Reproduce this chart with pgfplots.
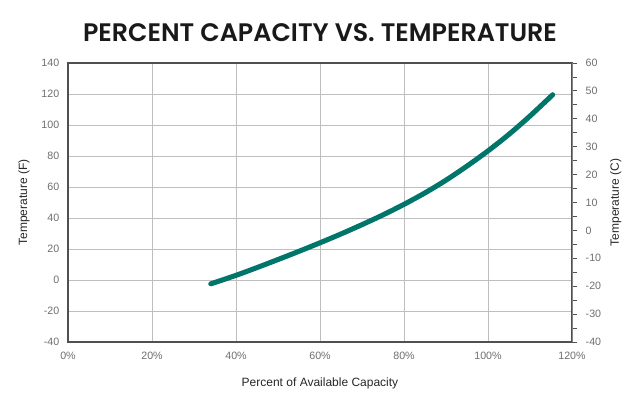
\documentclass[border=0pt]{standalone}
\usepackage{pgfplots}
\pgfplotsset{compat=1.18}
\usetikzlibrary{calc}
\usepackage{fontspec}
\setmainfont{Liberation Sans}
\newfontfamily\titlefont{Poppins SemiBold}
\definecolor{teal1}{RGB}{0,118,106}
\definecolor{tickgray}{RGB}{110,110,110}
\definecolor{gridgray}{RGB}{190,190,190}
\definecolor{axisgray}{RGB}{80,80,80}
\begin{document}
\begin{tikzpicture}
\pgfplotstableread{
x y
34 -2.5
40 3
45 8
50 13.2
55 18.5
60 24
65 29.7
70 35.7
75 42
80 48.8
85 56.2
90 64.4
95 73.5
100 83.3
105 94
110 105.8
115.4 119.5
}\curve
\begin{axis}[
  name=ax,
  scale only axis,
  width=378pt, height=209.25pt,
  xmin=0, xmax=120, ymin=-40, ymax=140,
  xtick={0,20,...,120}, ytick={-40,-20,...,140},
  xticklabel={\pgfmathprintnumber{\tick}\%},
  /pgf/number format/assume math mode=true,
  grid=major,
  major grid style={gridgray, line width=0.6pt},
  major tick length=0pt,
  axis line style={axisgray, line width=0.8pt},
  tick label style={font=\fontsize{8}{9}\selectfont, text=tickgray},
  yticklabel style={xshift=-3pt},
  xticklabel style={yshift=-4pt},
  xlabel={Percent of Available Capacity},
  ylabel={Temperature (F)},
  label style={font=\fontsize{9}{10}\selectfont, text=black!85},
  xlabel style={at={(0.5,0)}, yshift=-23pt},
  ylabel style={yshift=2pt},
  clip=false,
]
\addplot[teal1, line width=3.8pt, line cap=round, line join=round, smooth, tension=0.5] table[x=x,y=y] {\curve};
\end{axis}
\begin{axis}[
  scale only axis,
  width=378pt, height=209.25pt,
  xmin=0, xmax=120, ymin=-40, ymax=60,
  axis x line=none,
  axis y line*=right,
  ytick={-40,-30,...,60},
  minor ytick={-35,-25,...,55},
  tick align=outside,
  major tick length=3.75pt, minor tick length=3.75pt,
  every tick/.style={axisgray, line width=0.6pt},
  axis line style={gridgray!70!black, line width=0.6pt},
  /pgf/number format/assume math mode=true,
  tick label style={font=\fontsize{8}{9}\selectfont, text=tickgray},
  yticklabel style={xshift=3pt},
  ylabel={Temperature (C)},
  label style={font=\fontsize{9}{10}\selectfont, text=black!85},
  ylabel style={yshift=0pt},
]
\end{axis}
\node[font=\titlefont\fontsize{19}{22}\selectfont, text=black!90] at ($(ax.north)+(0,22.5pt)$) {PERCENT CAPACITY VS. TEMPERATURE};
\pgfresetboundingbox
\path[use as bounding box] ($(ax.south west)+(-51pt,-44.25pt)$) rectangle ($(ax.north east)+(51pt,47.25pt)$);
\end{tikzpicture}
\end{document}
